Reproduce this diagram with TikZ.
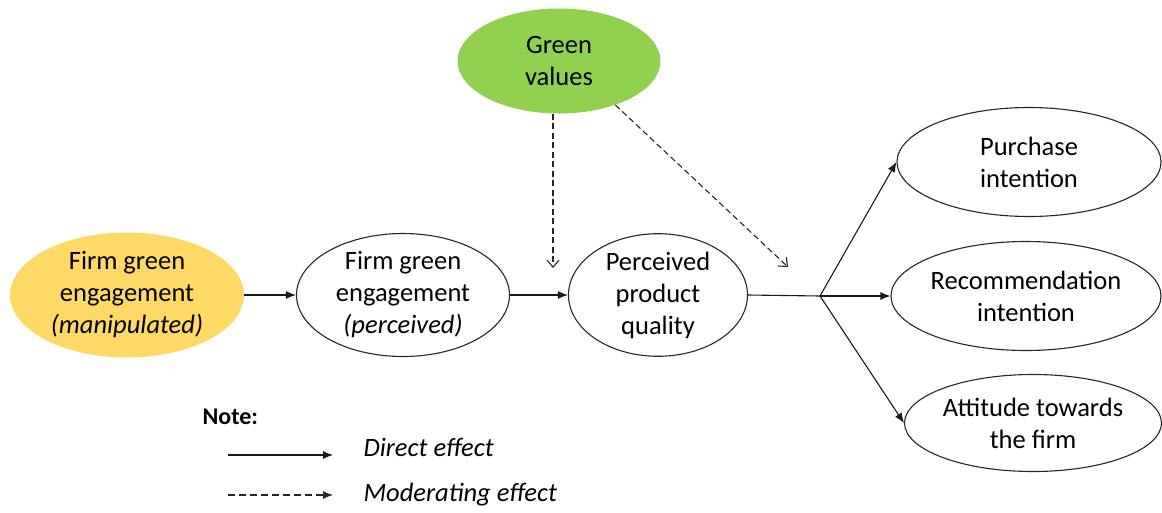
\documentclass[tikz,border=0pt]{standalone}
\usepackage{fontspec}
\setmainfont{Carlito}
\usepackage{xcolor}
\usetikzlibrary{arrows.meta}
\usetikzlibrary{positioning,shapes.geometric}
\definecolor{manipyellow}{HTML}{FFD966}
\definecolor{valuegreen}{HTML}{92D050}

\begin{document}
\begin{tikzpicture}[
x=1pt,y=-1pt,
Construct/.style={draw=black!85,line width=1.1pt,ellipse,inner sep=0pt,align=center,
  font=\fontsize{26.5}{32}\selectfont},
Filled/.style={ellipse,inner sep=0pt,align=center,font=\fontsize{26.5}{32}\selectfont},
Direct/.style={-{Latex[length=10pt,width=8pt]},line width=1.1pt,black!90},
Moderating/.style={-{Straight Barb[length=7pt,width=12pt]},line width=1.1pt,black!85,
  dash pattern=on 6pt off 3.5pt}
]
\useasboundingbox (0,0) rectangle (1162,512);

% constructs
\node[Filled,fill=manipyellow,minimum width=234pt,minimum height=125pt] (manip) at (127,295)
  {Firm green\\engagement\\\textit{(manipulated)}};
\node[Construct,minimum width=213pt,minimum height=123pt] (perc) at (403,295)
  {Firm green\\engagement\\\textit{(perceived)}};
\node[Construct,minimum width=179pt,minimum height=118pt] (quality) at (658,295)
  {Perceived\\product\\quality};
\node[Filled,fill=valuegreen,minimum width=203pt,minimum height=105pt] (values) at (559,61)
  {Green\\values};

% outcomes
\node[Construct,minimum width=264pt,minimum height=109pt] (purchase) at (1029,162)
  {Purchase\\intention};
\node[Construct,minimum width=270pt,minimum height=109pt] (recommend) at (1026,296)
  {Recommendation\\intention};
\node[Construct,minimum width=257pt,minimum height=97pt] (attitude) at (1033,423)
  {Attitude towards\\the firm};

\coordinate (junction) at (820,296);
\coordinate (modA) at (553,268);
\coordinate (modB) at (788,267);

\draw[Direct] (manip) -- (perc);
\draw[Direct] (perc.east) -- (quality.west);
\draw[line width=1.1pt,black!90] (quality.east) -- (junction);
\draw[Direct] (junction) -- (purchase.west);
\draw[Direct] (junction) -- (recommend.west);
\draw[Direct] (junction) -- (attitude.west);

\draw[Moderating] (values.south -| modA) -- (modA);
\draw[Moderating] (values.-38) -- (modB);

% legend
\node[font=\fontsize{24}{28}\selectfont\bfseries,anchor=west] (note) at (199,417) {Note:};
\coordinate (dirA) at (228,455);
\coordinate (dirB) at (333,455);
\coordinate (modC) at (228,495);
\coordinate (modD) at (333,495);
\draw[Direct] (dirA) -- (dirB);
\draw[Moderating,-{Latex[length=10pt,width=8pt]},dash pattern=on 7pt off 4pt] (modC) -- (modD);
\node[font=\fontsize{26.5}{30}\selectfont\itshape,anchor=west] (dirtext) at (360,447) {Direct effect};
\node[font=\fontsize{26.5}{30}\selectfont\itshape,anchor=west] (modtext) at (360,495) {Moderating effect};

\end{tikzpicture}
\end{document}
